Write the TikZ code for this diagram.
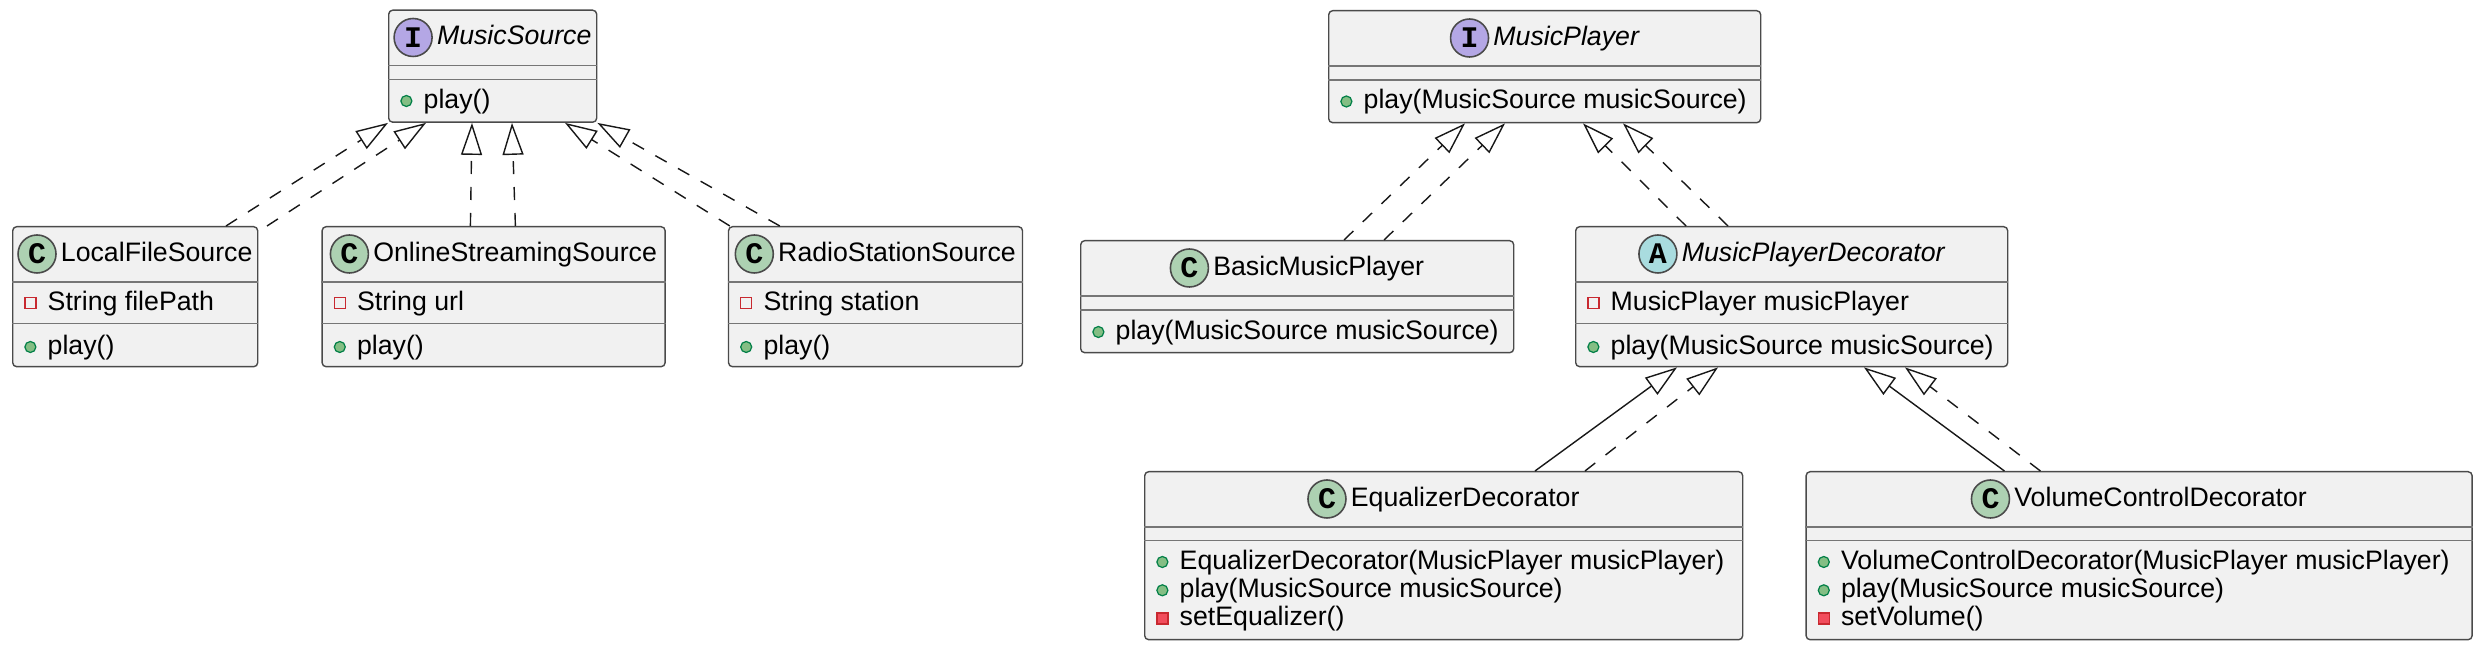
\documentclass[tikz,border=0pt]{standalone}
\usepackage{fontspec}
\setmainfont{Liberation Sans}
\setmonofont{Liberation Mono}
\usetikzlibrary{positioning, arrows.meta}

\definecolor{boxfill}{HTML}{F1F1F1}
\definecolor{boxline}{HTML}{4A4A4A}
\definecolor{sepline}{HTML}{767676}
\definecolor{arrowline}{HTML}{181818}
\definecolor{classicon}{HTML}{ADD1B2}
\definecolor{interfaceicon}{HTML}{B4A7E5}
\definecolor{abstracticon}{HTML}{A9DCDF}
\definecolor{pubfill}{HTML}{84BE84}
\definecolor{publine}{HTML}{038048}
\definecolor{privline}{HTML}{C82930}
\definecolor{privfill}{HTML}{F24D5C}

\tikzset{
    classbox/.style={draw=boxline, fill=boxfill, line width=0.4pt, rounded corners=0.4mm, inner sep=0pt},
    sep/.style={draw=sepline, line width=0.45pt},
    classname/.style={inner sep=0pt, text height=2.0mm, text depth=0.55mm, font=\fontsize{7.6}{9}\selectfont},
    italicname/.style={classname, font=\fontsize{7.6}{9}\selectfont\itshape},
    stereo/.style={circle, draw=boxline, line width=0.45pt, minimum size=3.8mm, inner sep=0pt, anchor=west,
        font=\fontsize{8.5}{9}\selectfont\ttfamily\bfseries},
    member/.style={inner sep=0pt, anchor=west, text height=2.0mm, text depth=0.55mm, font=\fontsize{7.6}{9}\selectfont},
    pubicon/.style={circle, draw=publine, fill=pubfill, line width=0.35pt, minimum size=1.1mm, inner sep=0pt},
    privfieldicon/.style={rectangle, draw=privline, line width=0.35pt, minimum size=1.1mm, inner sep=0pt},
    privmethodicon/.style={rectangle, draw=privline, fill=privfill, line width=0.35pt, minimum size=1.1mm, inner sep=0pt},
    pub/.style={member, label={[pubicon, label distance=1.05mm]left:{}}},
    privfield/.style={member, label={[privfieldicon, label distance=1.05mm]left:{}}},
    privmethod/.style={member, label={[privmethodicon, label distance=1.05mm]left:{}}},
    realization/.style={draw=arrowline, line width=0.4pt, dash pattern=on 1.3mm off 1.3mm,
        -{Triangle[open, length=3.2mm, width=2.1mm]}},
    inheritance/.style={draw=arrowline, line width=0.4pt, -{Triangle[open, length=3.2mm, width=2.1mm]}},
}

\begin{document}
\begin{tikzpicture}[x=1mm, y=1mm]
    \useasboundingbox (0,0) rectangle (248.2,-66.8);

    \node[classbox, minimum width=20.8mm, minimum height=11.2mm, anchor=north west] (MusicSource) at (38.8,-0.95) {};
    \node[italicname] (MusicSource-name) at ([yshift=-2.8mm]MusicSource.north) {\hspace{4.3mm}MusicSource};
    \node[stereo, fill=interfaceicon] (MusicSource-icon) at (MusicSource-name.west) {I};
    \node[pub] (MusicSource-m1) at ([xshift=3.5mm, yshift=-9.15mm]MusicSource.north west) {play()};

    \node[classbox, minimum width=24.5mm, minimum height=14mm, anchor=north west] (LocalFileSource) at (1.2,-22.6) {};
    \node[classname] (LocalFileSource-name) at ([yshift=-2.8mm]LocalFileSource.north) {\hspace{4.3mm}LocalFileSource};
    \node[stereo, fill=classicon] (LocalFileSource-icon) at (LocalFileSource-name.west) {C};
    \node[privfield] (LocalFileSource-f1) at ([xshift=3.5mm, yshift=-7.7mm]LocalFileSource.north west) {String filePath};
    \node[pub] (LocalFileSource-m1) at ([xshift=3.5mm, yshift=-12.1mm]LocalFileSource.north west) {play()};

    \node[classbox, minimum width=34.3mm, minimum height=14mm, right=6.3mm of LocalFileSource.north east, anchor=north west] (OnlineStreamingSource) {};
    \node[classname] (OnlineStreamingSource-name) at ([yshift=-2.8mm]OnlineStreamingSource.north) {\hspace{4.3mm}OnlineStreamingSource};
    \node[stereo, fill=classicon] (OnlineStreamingSource-icon) at (OnlineStreamingSource-name.west) {C};
    \node[privfield] (OnlineStreamingSource-f1) at ([xshift=3.5mm, yshift=-7.7mm]OnlineStreamingSource.north west) {String url};
    \node[pub] (OnlineStreamingSource-m1) at ([xshift=3.5mm, yshift=-12.1mm]OnlineStreamingSource.north west) {play()};

    \node[classbox, minimum width=29.4mm, minimum height=14mm, right=6.2mm of OnlineStreamingSource.north east, anchor=north west] (RadioStationSource) {};
    \node[classname] (RadioStationSource-name) at ([yshift=-2.8mm]RadioStationSource.north) {\hspace{4.3mm}RadioStationSource};
    \node[stereo, fill=classicon] (RadioStationSource-icon) at (RadioStationSource-name.west) {C};
    \node[privfield] (RadioStationSource-f1) at ([xshift=3.5mm, yshift=-7.7mm]RadioStationSource.north west) {String station};
    \node[pub] (RadioStationSource-m1) at ([xshift=3.5mm, yshift=-12.1mm]RadioStationSource.north west) {play()};

    \node[classbox, minimum width=43.2mm, minimum height=11.2mm, anchor=north west] (MusicPlayer) at (132.8,-1.0) {};
    \node[italicname] (MusicPlayer-name) at ([yshift=-2.8mm]MusicPlayer.north) {\hspace{4.3mm}MusicPlayer};
    \node[stereo, fill=interfaceicon] (MusicPlayer-icon) at (MusicPlayer-name.west) {I};
    \node[pub] (MusicPlayer-m1) at ([xshift=3.5mm, yshift=-9.15mm]MusicPlayer.north west) {play(MusicSource musicSource)};

    \node[classbox, minimum width=43.3mm, minimum height=11.2mm, anchor=north west] (BasicMusicPlayer) at (108.0,-24.0) {};
    \node[classname] (BasicMusicPlayer-name) at ([yshift=-2.8mm]BasicMusicPlayer.north) {\hspace{4.3mm}BasicMusicPlayer};
    \node[stereo, fill=classicon] (BasicMusicPlayer-icon) at (BasicMusicPlayer-name.west) {C};
    \node[pub] (BasicMusicPlayer-m1) at ([xshift=3.5mm, yshift=-9.2mm]BasicMusicPlayer.north west) {play(MusicSource musicSource)};

    \node[classbox, minimum width=43.2mm, minimum height=14mm, anchor=north west] (MusicPlayerDecorator) at (157.5,-22.6) {};
    \node[italicname] (MusicPlayerDecorator-name) at ([yshift=-2.8mm]MusicPlayerDecorator.north) {\hspace{4.3mm}MusicPlayerDecorator};
    \node[stereo, fill=abstracticon] (MusicPlayerDecorator-icon) at (MusicPlayerDecorator-name.west) {A};
    \node[privfield] (MusicPlayerDecorator-f1) at ([xshift=3.5mm, yshift=-7.7mm]MusicPlayerDecorator.north west) {MusicPlayer musicPlayer};
    \node[pub] (MusicPlayerDecorator-m1) at ([xshift=3.5mm, yshift=-12.1mm]MusicPlayerDecorator.north west) {play(MusicSource musicSource)};

    \node[classbox, minimum width=59.8mm, minimum height=16.8mm, anchor=north west] (EqualizerDecorator) at (114.4,-47.1) {};
    \node[classname] (EqualizerDecorator-name) at ([yshift=-2.8mm]EqualizerDecorator.north) {\hspace{4.3mm}EqualizerDecorator};
    \node[stereo, fill=classicon] (EqualizerDecorator-icon) at (EqualizerDecorator-name.west) {C};
    \node[pub] (EqualizerDecorator-m1) at ([xshift=3.5mm, yshift=-9.1mm]EqualizerDecorator.north west) {EqualizerDecorator(MusicPlayer musicPlayer)};
    \node[pub] (EqualizerDecorator-m2) at ([xshift=3.5mm, yshift=-11.93mm]EqualizerDecorator.north west) {play(MusicSource musicSource)};
    \node[privmethod] (EqualizerDecorator-m3) at ([xshift=3.5mm, yshift=-14.76mm]EqualizerDecorator.north west) {setEqualizer()};

    \node[classbox, minimum width=66.6mm, minimum height=16.8mm, right=6.2mm of EqualizerDecorator.north east, anchor=north west] (VolumeControlDecorator) {};
    \node[classname] (VolumeControlDecorator-name) at ([yshift=-2.8mm]VolumeControlDecorator.north) {\hspace{4.3mm}VolumeControlDecorator};
    \node[stereo, fill=classicon] (VolumeControlDecorator-icon) at (VolumeControlDecorator-name.west) {C};
    \node[pub] (VolumeControlDecorator-m1) at ([xshift=3.5mm, yshift=-9.1mm]VolumeControlDecorator.north west) {VolumeControlDecorator(MusicPlayer musicPlayer)};
    \node[pub] (VolumeControlDecorator-m2) at ([xshift=3.5mm, yshift=-11.93mm]VolumeControlDecorator.north west) {play(MusicSource musicSource)};
    \node[privmethod] (VolumeControlDecorator-m3) at ([xshift=3.5mm, yshift=-14.76mm]VolumeControlDecorator.north west) {setVolume()};

    % compartment lines
    \foreach \c/\s in {MusicSource/7mm, MusicPlayer/7mm, BasicMusicPlayer/7mm, EqualizerDecorator/6.95mm, VolumeControlDecorator/6.95mm,
        LocalFileSource/9.75mm, OnlineStreamingSource/9.75mm, RadioStationSource/9.75mm, MusicPlayerDecorator/9.75mm} {
        \draw[sep] ([yshift=-5.6mm]\c.north west) -- ([yshift=-5.6mm]\c.north east);
        \draw[sep] ([yshift=-\s]\c.north west) -- ([yshift=-\s]\c.north east);
    }

    \draw[realization] ([xshift=21.4mm]LocalFileSource.north west) -- (MusicSource.south west);
    \draw[realization] ([xshift=25.5mm]LocalFileSource.north west) -- ([xshift=3.8mm]MusicSource.south west);
    \draw[realization] ([xshift=14.9mm]OnlineStreamingSource.north west) -- ([xshift=8.4mm]MusicSource.south west);
    \draw[realization] ([xshift=19.4mm]OnlineStreamingSource.north west) -- ([xshift=12.4mm]MusicSource.south west);
    \draw[realization] ([xshift=0.2mm]RadioStationSource.north west) -- ([xshift=17.7mm]MusicSource.south west);
    \draw[realization] ([xshift=5.2mm]RadioStationSource.north west) -- (MusicSource.south east);

    \draw[realization] ([xshift=26.4mm]BasicMusicPlayer.north west) -- ([xshift=13.7mm]MusicPlayer.south west);
    \draw[realization] ([xshift=30.4mm]BasicMusicPlayer.north west) -- ([xshift=17.7mm]MusicPlayer.south west);
    \draw[realization] ([xshift=11.1mm]MusicPlayerDecorator.north west) -- ([xshift=25.5mm]MusicPlayer.south west);
    \draw[realization] ([xshift=15.3mm]MusicPlayerDecorator.north west) -- ([xshift=29.5mm]MusicPlayer.south west);

    \draw[inheritance] ([xshift=39.1mm]EqualizerDecorator.north west) -- ([xshift=10.2mm]MusicPlayerDecorator.south west);
    \draw[realization] ([xshift=44.1mm]EqualizerDecorator.north west) -- ([xshift=14.3mm]MusicPlayerDecorator.south west);
    \draw[inheritance] ([xshift=19.9mm]VolumeControlDecorator.north west) -- ([xshift=28.9mm]MusicPlayerDecorator.south west);
    \draw[realization] ([xshift=23.5mm]VolumeControlDecorator.north west) -- ([xshift=33mm]MusicPlayerDecorator.south west);
\end{tikzpicture}
\end{document}
